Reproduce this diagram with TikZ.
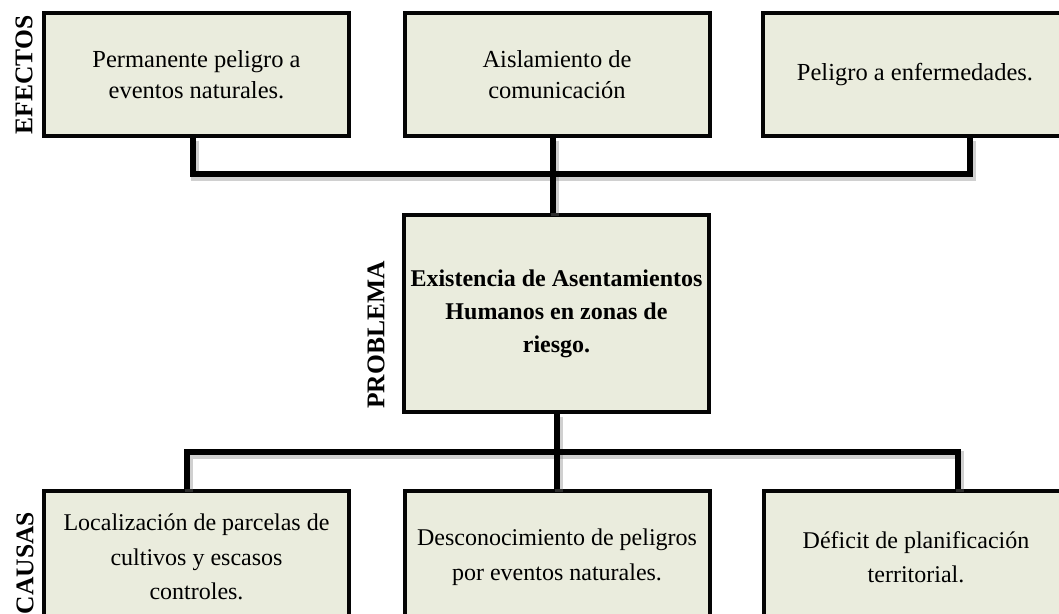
\documentclass[tikz,border=0pt]{standalone}
\usepackage{fontspec}
\setmainfont{Liberation Serif}
\usepackage{tikz}
\usetikzlibrary{positioning, calc}
\definecolor{boxfill}{RGB}{234,236,221}
\definecolor{boxline}{RGB}{5,5,5}
\definecolor{shadowgray}{RGB}{120,120,120}
\tikzset{
  box/.style={rectangle, draw=boxline, fill=boxfill, line width=4pt,
    minimum width=305pt, minimum height=123pt, align=center,
    inner sep=0pt, font=\fontsize{24.5}{31}\selectfont},
  causebox/.style={box, minimum height=132pt, font=\fontsize{24}{34.5}\selectfont},
  probbox/.style={box, minimum height=197pt,
    font=\fontsize{24}{33}\selectfont\bfseries},
  bus/.style={line width=6.5pt, color=black, line join=miter},
  busshadow/.style={line width=8pt, color=shadowgray, opacity=0.35,
    transform canvas={xshift=1.5pt, yshift=-2.5pt}},
  sidelabel/.style={rotate=90, font=\fontsize{25.5}{25.5}\selectfont\bfseries}
}

\begin{document}
\begin{tikzpicture}[x=1pt, y=-1pt]
  \useasboundingbox (0,0) rectangle (1059,613);
  \clip (0,0) rectangle (1059,613);

  % Effects row
  \node[box] (eff1) at (196.5,74.5) {Permanente peligro a\\eventos naturales.};
  \node[box] (eff2) at (557,74.5) {Aislamiento de\\comunicación};
  \node[box] (eff3) at (915,74.5) {Peligro a enfermedades.};

  % Problem
  \node[probbox] (prob) at (556.5,313.5) {Existencia de Asentamientos\\Humanos en zonas de\\riesgo.};

  % Causes row
  \node[causebox] (cau1) at (196.5,557) {Localización de parcelas de\\cultivos y escasos\\controles.};
  \node[causebox] (cau2) at (557,557) {Desconocimiento de peligros\\por eventos naturales.};
  \node[causebox] (cau3) at (916,557) {Déficit de planificación\\territorial.};

  % Side labels
  \node[sidelabel] (lblEff) at (24,75) {EFECTOS};
  \node[sidelabel] (lblProb) at (376,335) {PROBLEMA};
  \node[sidelabel] (lblCau) at (25,563) {CAUSAS};

  % Bus points
  \coordinate (topL) at (193,174);
  \coordinate (topR) at (970,174);
  \coordinate (topM) at (553,174);
  \coordinate (botL) at (187,452);
  \coordinate (botR) at (958,452);
  \coordinate (botM) at (557,452);

  % Shadows of the connectors
  \draw[busshadow] (eff1.south -| topL) -- (topL) -- (topR) -- (eff3.south -| topR);
  \draw[busshadow] (eff2.south -| topM) -- (prob.north -| topM);
  \draw[busshadow] (cau1.north -| botL) -- (botL) -- (botR) -- (cau3.north -| botR);
  \draw[busshadow] (prob.south -| botM) -- (cau2.north -| botM);

  % Connectors
  \draw[bus] (eff1.south -| topL) -- (topL) -- (topR) -- (eff3.south -| topR);
  \draw[bus] (eff2.south -| topM) -- (prob.north -| topM);
  \draw[bus] (cau1.north -| botL) -- (botL) -- (botR) -- (cau3.north -| botR);
  \draw[bus] (prob.south -| botM) -- (cau2.north -| botM);
\end{tikzpicture}
\end{document}
